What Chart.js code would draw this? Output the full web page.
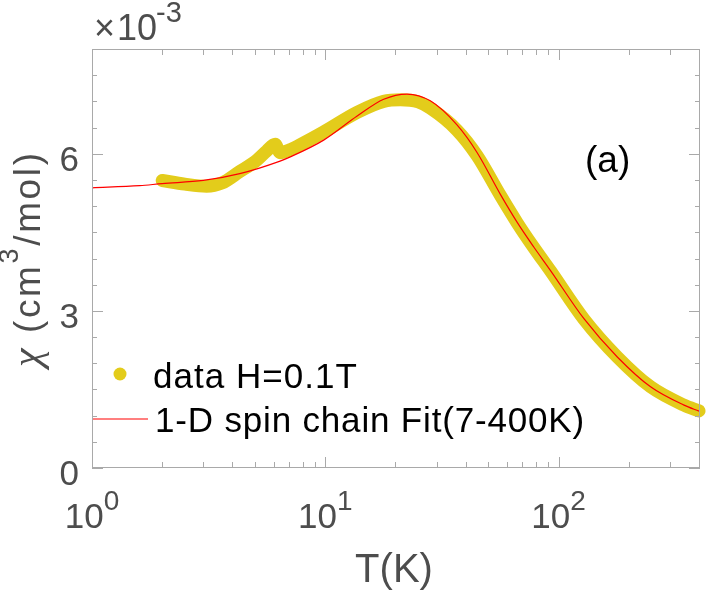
<!DOCTYPE html>
<html>
<head>
<meta charset="utf-8">
<script src="https://cdn.jsdelivr.net/npm/chart.js@4/dist/chart.umd.min.js"></script>
<style>
  html, body { margin: 0; padding: 0; background: #fff; }
  #grafico { display: block; }
</style>
</head>
<body>
<canvas id="grafico" width="706" height="592"></canvas>
<script>
// Datos medidos, chi en unidades de 1e-3 cm3/mol
const temperaturaDatos = [2, 2.5, 3.1, 3.6, 4.3, 5.0, 5.6, 6.1, 6.4, 7.1, 7.8, 9.8, 13.7, 17.8, 21, 25, 28.2, 36.7, 44.8, 56.4, 66.5, 78.3, 92.4, 128.5, 178.6, 248, 345, 400]
const chiDatos = [5.49, 5.42, 5.38, 5.44, 5.66, 5.85, 6.05, 6.18, 6.02, 6.08, 6.17, 6.41, 6.79, 7.00, 7.03, 6.99, 6.87, 6.45, 5.96, 5.20, 4.68, 4.21, 3.76, 2.84, 2.12, 1.55, 1.20, 1.09]

// Ajuste cadena de espines 1-D (7-400K)
const temperaturaAjuste = [1, 1.6, 2, 3, 4.3, 6.4, 7.08, 9.84, 13.7, 17.8, 22.4, 28.2, 36.7, 44.8, 56.4, 66.5, 78.3, 92.4, 128.5, 178.6, 248, 345, 400]
const chiAjuste = [5.35, 5.39, 5.43, 5.49, 5.62, 5.86, 5.94, 6.26, 6.72, 7.04, 7.14, 7.01, 6.55, 6.02, 5.22, 4.69, 4.22, 3.77, 2.85, 2.12, 1.55, 1.20, 1.086]

// Ticks
const ticksX = [1, 10, 100]
const exponentesX = ['0', '1', '2']
const ticksY = [0, 3, 6]
const etiquetasY = ['0', '3', '6']

const colorDatos = '#e3cc1b'
const colorAjuste = '#ff0000'
const colorEje = '#a9a9a9'
const colorTexto = '#4d4d4d'
const fuente = '"Liberation Sans", Arial, Helvetica, sans-serif'

const xMin = 1
const xMax = 404
const yMin = 0
const yMax = 8

// ticks menores (2..9 de cada decada, cada 0.5 en y)
const menoresX = []
for (let d = 1; d <= 100; d *= 10) {
    for (let k = 2; k <= 9; k++) {
        if (k * d <= xMax) menoresX.push(k * d)
    }
}
const menoresY = []
for (let v = 0.5; v < yMax; v += 0.5) menoresY.push(v)

// escribe base con exponente, centrado en cx
const escribirPotencia = (ctx, base, exp, cx, baseline, tam, tamExp) => {
    ctx.font = `${tam}px ${fuente}`
    const anchoBase = ctx.measureText(base).width
    ctx.font = `${tamExp}px ${fuente}`
    const anchoExp = ctx.measureText(exp).width
    const inicio = cx - (anchoBase + anchoExp) / 2
    ctx.textAlign = 'left'
    ctx.textBaseline = 'alphabetic'
    ctx.font = `${tam}px ${fuente}`
    ctx.fillText(base, inicio, baseline)
    ctx.font = `${tamExp}px ${fuente}`
    ctx.fillText(exp, inicio + anchoBase, baseline - tam * 0.52)
}

// texto estirado a un ancho dado
const textoAncho = (ctx, texto, x, y, ancho) => {
    ctx.letterSpacing = '0px'
    const medido = ctx.measureText(texto).width
    ctx.letterSpacing = `${(ancho - medido) / texto.length}px`
    ctx.fillText(texto, x, y)
    ctx.letterSpacing = '0px'
}

const ejesPlugin = {
    id: 'ejes',
    afterDatasetsDraw(chart) {
        const { ctx, chartArea: { left, right, top, bottom }, scales: { x, y } } = chart
        ctx.save()

        // caja
        ctx.strokeStyle = colorEje
        ctx.lineWidth = 1
        ctx.strokeRect(left + 0.5, top + 0.5, right - left - 1, bottom - top - 1)

        ctx.beginPath()
        ticksX.forEach(v => {
            const px = Math.round(x.getPixelForValue(v)) + 0.5
            ctx.moveTo(px, bottom); ctx.lineTo(px, bottom - 11)
            ctx.moveTo(px, top); ctx.lineTo(px, top + 11)
        })
        menoresX.forEach(v => {
            const px = Math.round(x.getPixelForValue(v)) + 0.5
            ctx.moveTo(px, bottom); ctx.lineTo(px, bottom - 6)
            ctx.moveTo(px, top); ctx.lineTo(px, top + 6)
        })
        ticksY.forEach(v => {
            const py = Math.round(y.getPixelForValue(v)) + 0.5
            ctx.moveTo(left, py); ctx.lineTo(left + 11, py)
            ctx.moveTo(right, py); ctx.lineTo(right - 11, py)
        })
        menoresY.forEach(v => {
            const py = Math.round(y.getPixelForValue(v)) + 0.5
            ctx.moveTo(left, py); ctx.lineTo(left + 5, py)
            ctx.moveTo(right, py); ctx.lineTo(right - 5, py)
        })
        ctx.stroke()

        // etiquetas de ticks
        ctx.fillStyle = colorTexto
        ticksX.forEach((v, i) => {
            escribirPotencia(ctx, '10', exponentesX[i], x.getPixelForValue(v), 528, 35, 28)
        })
        ctx.font = `35px ${fuente}`
        ctx.textAlign = 'right'
        ctx.textBaseline = 'alphabetic'
        ticksY.forEach((v, i) => {
            ctx.fillText(etiquetasY[i], 79, y.getPixelForValue(v) + 17)
        })

        // multiplicador x10^-3
        ctx.textAlign = 'left'
        ctx.font = `36px ${fuente}`
        ctx.fillText('\u00d7', 94, 40)
        ctx.fillText('10', 117, 40)
        ctx.font = `29px ${fuente}`
        ctx.fillText('-3', 156, 22)

        // titulo eje x
        ctx.font = `40px ${fuente}`
        ctx.textAlign = 'center'
        ctx.fillText('T(K)', 394, 582)

        // titulo eje y
        ctx.save()
        ctx.translate(40, 0)
        ctx.rotate(-Math.PI / 2)
        ctx.textAlign = 'left'
        const fuenteChi = 'italic 42px "Liberation Serif", "DejaVu Serif", serif'
        const fuenteTitulo = `37px ${fuente}`
        const fuenteExp = `27px ${fuente}`
        ctx.font = fuenteChi
        const aChi = ctx.measureText('\u03c7').width
        ctx.font = fuenteTitulo
        const a1 = ctx.measureText(' (cm').width
        const a2 = ctx.measureText('/mol)').width
        ctx.font = fuenteExp
        const a3 = ctx.measureText('3').width
        // rotado: -y de pantalla es +x local
        let pos = -367
        const extra = (214 - (aChi + a1 + a2 + a3)) / 10
        ctx.font = fuenteChi
        ctx.fillText('\u03c7', pos, 0)
        pos += aChi + extra
        ctx.font = fuenteTitulo
        ctx.letterSpacing = `${extra}px`
        ctx.fillText(' (cm', pos, 0)
        pos += a1 + extra * 4
        ctx.font = fuenteExp
        ctx.fillText('3', pos, -22)
        pos += a3 + extra
        ctx.font = fuenteTitulo
        ctx.fillText('/mol)', pos, 0)
        ctx.letterSpacing = '0px'
        ctx.restore()

        // (a)
        ctx.fillStyle = '#000'
        ctx.font = `37px ${fuente}`
        ctx.textAlign = 'left'
        ctx.fillText('(a)', 585, 172)

        // leyenda
        ctx.fillStyle = colorDatos
        ctx.beginPath()
        ctx.arc(120, 374, 6.5, 0, Math.PI * 2)
        ctx.fill()
        ctx.strokeStyle = colorAjuste
        ctx.lineWidth = 1.2
        ctx.beginPath()
        ctx.moveTo(93, 419)
        ctx.lineTo(148, 419)
        ctx.stroke()
        ctx.fillStyle = '#000'
        ctx.font = `35px ${fuente}`
        ctx.textAlign = 'left'
        textoAncho(ctx, 'data H=0.1T', 153, 388, 205)
        textoAncho(ctx, '1-D spin chain Fit(7-400K)', 155, 432, 430)

        ctx.restore()
    }
}

new Chart(document.getElementById('grafico'), {
    type: 'scatter',
    data: {
        datasets: [{
            label: '1-D spin chain Fit(7-400K)',
            data: temperaturaAjuste.map((t, i) => ({ x: t, y: chiAjuste[i] })),
            showLine: true,
            borderColor: colorAjuste,
            borderWidth: 1.2,
            pointRadius: 0,
            cubicInterpolationMode: 'monotone',
            clip: false
        }, {
            label: 'data H=0.1T',
            data: temperaturaDatos.map((t, i) => ({ x: t, y: chiDatos[i] })),
            showLine: true,
            borderColor: colorDatos,
            backgroundColor: colorDatos,
            borderWidth: 13,
            borderCapStyle: 'round',
            borderJoinStyle: 'round',
            pointRadius: 0,
            cubicInterpolationMode: 'monotone',
            clip: false
        }]
    },
    options: {
        responsive: false,
        animation: false,
        events: [],
        layout: { padding: { left: 92, top: 49, right: 6, bottom: 124 } },
        plugins: {
            legend: { display: false },
            tooltip: { enabled: false }
        },
        scales: {
            x: { type: 'logarithmic', min: xMin, max: xMax, display: false },
            y: { type: 'linear', min: yMin, max: yMax, display: false }
        }
    },
    plugins: [ejesPlugin]
})
</script>
</body>
</html>
